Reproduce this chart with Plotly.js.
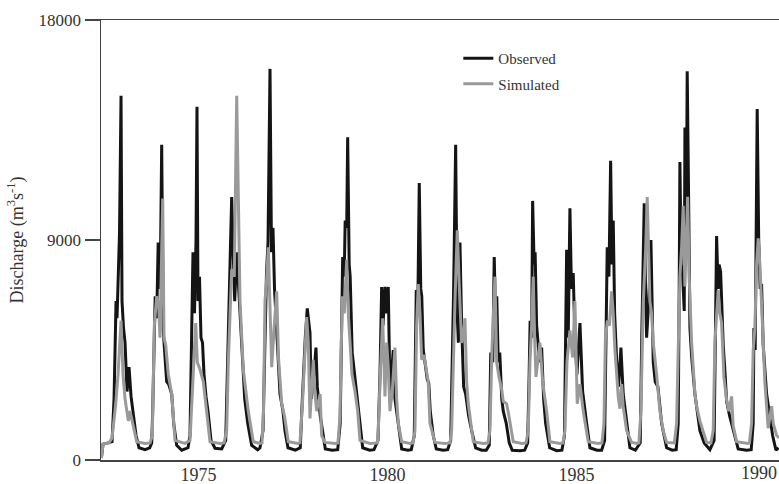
<!DOCTYPE html>
<html>
<head>
<meta charset="utf-8">
<script src="https://cdn.plot.ly/plotly-3.0.1.min.js"></script>
<style>html,body{margin:0;padding:0;background:#fff;}#chart{width:779px;height:484px;}</style>
</head>
<body>
<div id="chart"></div>
<script>
// Observed discharge (m3/s) vs decimal year
const obsYears = [1972.430,1972.474,1972.606,1972.712,1972.765,1972.818,1972.844,1972.871,1972.910,1972.950,1972.976,1973.016,1973.056,1973.109,1973.162,1973.215,1973.267,1973.347,1973.426,1973.585,
1973.709,1973.762,1973.788,1973.828,1973.854,1973.894,1973.933,1973.986,1974.026,1974.066,1974.105,1974.158,1974.211,1974.291,1974.344,1974.423,1974.556,
1974.722,1974.775,1974.815,1974.854,1974.894,1974.934,1974.960,1974.987,1975.026,1975.066,1975.106,1975.146,1975.198,1975.251,1975.331,1975.437,
1975.614,1975.720,1975.746,1975.786,1975.825,1975.878,1975.918,1975.958,1976.011,1976.063,1976.103,1976.143,1976.222,1976.302,1976.407,1976.566,
1976.627,1976.707,1976.746,1976.799,1976.839,1976.892,1976.931,1976.971,1977.011,1977.050,1977.103,1977.156,1977.235,1977.288,1977.368,1977.561,
1977.693,1977.733,1977.772,1977.825,1977.878,1977.918,1977.950,1977.984,1978.037,1978.108,1978.143,1978.222,1978.302,1978.355,1978.540,
1978.683,1978.749,1978.788,1978.815,1978.855,1978.881,1978.921,1978.947,1978.987,1979.013,1979.066,1979.106,1979.159,1979.212,1979.264,1979.344,1979.529,
1979.643,1979.749,1979.802,1979.846,1979.881,1979.934,1979.974,1980.021,1980.066,1980.106,1980.153,1980.198,1980.243,1980.304,1980.376,1980.542,
1980.630,1980.709,1980.735,1980.762,1980.801,1980.841,1980.881,1980.907,1980.947,1981.000,1981.053,1981.092,1981.132,1981.212,1981.291,1981.476,
1981.593,1981.672,1981.712,1981.751,1981.804,1981.844,1981.876,1981.918,1981.963,1982.016,1982.069,1982.148,1982.228,1982.333,1982.492,
1982.614,1982.693,1982.733,1982.786,1982.825,1982.865,1982.892,1982.931,1982.971,1983.024,1983.064,1983.143,1983.222,1983.302,1983.513,
1983.630,1983.709,1983.749,1983.775,1983.815,1983.841,1983.881,1983.907,1983.947,1983.987,1984.026,1984.079,1984.132,1984.185,1984.291,1984.476,
1984.616,1984.683,1984.709,1984.741,1984.783,1984.828,1984.868,1984.915,1984.960,1985.013,1985.093,1985.164,1985.270,1985.357,1985.542,
1985.667,1985.746,1985.781,1985.815,1985.860,1985.905,1985.940,1985.974,1986.011,1986.063,1986.116,1986.177,1986.238,1986.328,1986.415,1986.560,
1986.688,1986.728,1986.759,1986.794,1986.829,1986.857,1986.913,1986.971,1987.032,1987.085,1987.156,1987.254,1987.386,1987.534,
1987.640,1987.693,1987.719,1987.738,1987.772,1987.812,1987.852,1987.871,1987.905,1987.931,1987.968,1988.003,1988.050,1988.135,1988.196,1988.267,1988.381,1988.532,
1988.643,1988.669,1988.709,1988.749,1988.775,1988.815,1988.854,1988.884,1988.934,1988.974,1989.053,1989.148,1989.280,1989.503,
1989.625,1989.677,1989.696,1989.730,1989.783,1989.823,1989.862,1989.899,1989.942,1990.032,1990.101,1990.191,1990.280,1990.349];
const obsQ = [80,650,700,750,2500,6500,5800,7200,9300,14900,6500,5400,4800,2800,3800,2600,2000,1000,500,420,
500,700,2000,5500,6700,5800,8900,7000,12900,5300,4500,3200,3100,2700,1500,600,400,
500,1000,4500,8500,6000,9000,14450,6500,7500,5000,4800,3500,2600,2000,800,480,
450,800,2500,5000,7000,10760,8500,6500,8500,7000,5500,4500,2500,1500,600,420,
500,1200,4500,7650,8900,16000,8500,9500,7000,6000,4300,2700,2000,1200,500,400,
500,2000,3600,5000,6200,5500,5200,2500,3200,4600,3000,1800,1000,450,400,
420,1500,5000,8300,7500,9800,9500,13200,8000,7500,4400,3800,3000,2400,1500,500,400,
420,800,3500,7080,5500,7080,6000,7080,2800,3500,4500,2500,2000,1200,450,400,
420,1000,4000,6950,6000,11330,7000,6700,4500,3800,3300,3150,2000,1000,450,400,
420,800,4000,7000,12900,6000,4800,8900,5500,3000,2700,1800,1200,500,400,
400,600,4400,4000,8300,5500,6700,4000,4400,2500,2000,1500,700,400,380,
400,700,3500,5700,5000,10600,8000,8500,5500,4800,4000,4600,2500,1500,500,380,
400,1000,4500,8600,5000,10300,7000,7650,5000,3500,5600,2800,1500,500,400,
400,800,5700,8700,7500,12240,8000,9800,6000,4100,3000,4600,2700,1500,500,400,
700,5000,8000,10500,7000,5000,6500,9000,4000,3200,3000,1500,500,400,
420,1500,7000,12190,8000,7500,6100,13600,9000,15900,10800,5400,4200,2700,2000,1200,700,420,
800,5000,9160,7000,8000,7700,5500,4700,3500,2400,1800,1200,450,400,
420,1500,5400,4500,14360,9000,7000,7200,4700,2700,2000,1000,400,500];

// Simulated discharge (m3/s) vs decimal year
const simYears = [1972.430,1972.474,1972.632,1972.712,1972.810,1972.871,1972.950,1973.003,1973.056,1973.143,1973.188,1973.275,1973.365,1973.585,
1973.717,1973.778,1973.831,1973.894,1973.947,1973.981,1974.026,1974.053,1974.087,1974.132,1974.201,1974.291,1974.378,1974.643,
1974.775,1974.847,1974.926,1974.968,1975.040,1975.127,1975.217,1975.304,1975.569,
1975.675,1975.746,1975.788,1975.878,1975.947,1976.011,1976.053,1976.098,1976.185,1976.317,1976.450,1976.627,
1976.680,1976.720,1976.759,1976.804,1976.847,1976.892,1976.937,1977.005,1977.069,1977.116,1977.201,1977.275,1977.376,1977.632,
1977.685,1977.757,1977.817,1977.862,1977.905,1977.950,1978.037,1978.082,1978.127,1978.217,1978.259,1978.347,1978.611,
1978.690,1978.743,1978.804,1978.857,1978.921,1978.963,1979.008,1979.061,1979.140,1979.212,1979.273,1979.537,
1979.733,1979.757,1979.810,1979.873,1979.934,1979.979,1980.021,1980.066,1980.127,1980.198,1980.243,1980.286,1980.376,1980.595,
1980.675,1980.728,1980.772,1980.815,1980.860,1980.905,1980.966,1981.037,1981.079,1981.124,1981.257,1981.521,
1981.653,1981.698,1981.741,1981.786,1981.847,1981.884,1981.918,1981.963,1982.005,1982.050,1982.095,1982.138,1982.183,1982.270,1982.526,
1982.659,1982.712,1982.765,1982.844,1982.889,1982.950,1983.021,1983.064,1983.153,1983.214,1983.328,1983.558,
1983.666,1983.725,1983.770,1983.815,1983.857,1983.894,1983.929,1984.034,1984.106,1984.212,1984.299,1984.563,
1984.643,1984.696,1984.749,1984.828,1984.899,1984.960,1985.021,1985.093,1985.180,1985.312,1985.569,
1985.675,1985.728,1985.767,1985.820,1985.873,1985.931,1985.974,1986.019,1986.106,1986.151,1986.196,1986.238,1986.328,1986.460,1986.610,
1986.653,1986.706,1986.767,1986.831,1986.873,1986.910,1986.944,1986.989,1987.032,1987.122,1987.209,1987.296,1987.386,
1987.592,1987.651,1987.693,1987.738,1987.783,1987.825,1987.871,1987.905,1987.942,1987.984,1988.048,1988.135,1988.180,1988.267,1988.444,
1988.558,1988.619,1988.664,1988.709,1988.751,1988.796,1988.841,1988.902,1988.974,1989.034,1989.106,1989.148,1989.238,1989.537,
1989.577,1989.635,1989.677,1989.722,1989.767,1989.810,1989.854,1989.899,1989.942,1989.987,1990.074,1990.164,1990.207,1990.296,1990.365];
const simQ = [80,650,700,900,2300,3500,5700,3500,2500,1600,2000,1400,750,680,
700,1000,5500,6700,6300,5000,8500,10700,5000,4700,3500,2700,800,680,
800,3200,5600,4000,3700,3200,2000,750,680,
700,1200,4000,7800,7500,14900,10900,6500,3700,2000,750,680,
700,2000,6500,7400,8700,6000,3800,5500,6900,4200,2300,1800,750,680,
700,2500,4500,5850,4800,1700,4100,2700,2000,2700,1000,720,680,
700,1800,6700,6000,8200,6000,4800,3500,2800,2000,800,680,
700,1200,3500,5800,2600,4800,3800,2000,2800,4600,2500,1500,750,680,
700,1200,5500,7200,6000,4100,4300,3700,3200,1500,720,680,
700,1200,4500,6500,9400,7500,6400,4800,5000,5800,3200,2300,1800,750,680,
700,1200,4500,7500,4000,3400,2900,2400,2300,1800,750,680,
700,1200,4000,5500,7500,5000,3400,4800,3200,2000,750,680,
700,1200,4000,5300,4200,6500,2300,3100,2000,750,680,
700,1500,5000,5700,5500,6900,6000,4500,2600,2100,3100,2200,1200,720,680,
700,2000,6400,8600,10760,8500,6500,6000,4800,3500,2000,1200,720,
700,1500,4500,7500,8700,10400,7100,8800,10770,7500,4800,2700,2200,1600,720,
700,1200,4800,6000,6950,6000,5600,3400,2450,2000,2600,1400,750,680,
700,1500,4500,5400,8000,9070,8000,6400,4800,3150,1300,2200,1500,1000,900];

const seriesNames = ['Observed', 'Simulated'];
const xTicks = [1975, 1980, 1985, 1990];
const xTickLabels = ['1975', '1980', '1985', '1990'];
const yTicks = [0, 9000, 18000];
const yTickLabels = ['0', '9000', '18000'];

const serif = 'Liberation Serif, Times New Roman, serif';

const traces = [
  {x: obsYears, y: obsQ, name: seriesNames[0], type: 'scatter', mode: 'lines',
   line: {color: '#141414', width: 3}, legendgroup: 'a'},
  {x: simYears, y: simQ, name: seriesNames[1], type: 'scatter', mode: 'lines',
   line: {color: '#9a9a9a', width: 3}, legendgroup: 'b'}
];

// the last year label sits right at the chart's edge, so it is nudged left to stay visible
const lastIdx = xTicks.length - 1;
const axisLabels = xTickLabels.map((t, i) => i === lastIdx ? '' : t);

const layout = {
  width: 779, height: 484,
  margin: {l: 101, r: 0, t: 20, b: 24, pad: 0},
  paper_bgcolor: '#fff', plot_bgcolor: '#fff',
  font: {family: serif, size: 17, color: '#333'},
  showlegend: true,
  legend: {x: 0.527, y: 0.95, xanchor: 'left', yanchor: 'top',
           bgcolor: 'rgba(0,0,0,0)', font: {family: serif, size: 15, color: '#333'},
           tracegroupgap: 3},
  xaxis: {range: [1972.42, 1990.36], tickvals: xTicks, ticktext: axisLabels,
          showgrid: false, zeroline: false, showline: true, mirror: true,
          linecolor: '#444', linewidth: 1.5, ticks: '',
          ticklabelstandoff: -2,
          tickfont: {family: serif, size: 18, color: '#333'}},
  yaxis: {range: [0, 18000], tickvals: yTicks, ticktext: yTickLabels,
          showgrid: false, zeroline: false, showline: true,
          linecolor: '#444', linewidth: 1.5, ticks: 'outside', ticklen: 15, tickwidth: 1.2, tickcolor: '#444',
          tickfont: {family: serif, size: 17, color: '#333'},
          title: {text: 'Discharge (m<sup>3</sup>s<sup>-1</sup>)', standoff: 10,
                  font: {family: serif, size: 18, color: '#333'}}},
  annotations: [{
    x: xTicks[lastIdx], xref: 'x', y: 0, yref: 'paper',
    xanchor: 'center', yanchor: 'top', xshift: -6, yshift: -1,
    text: xTickLabels[lastIdx], showarrow: false,
    font: {family: serif, size: 18, color: '#333'}
  }]
};

Plotly.newPlot('chart', traces, layout, {staticPlot: true, displayModeBar: false});
</script>
</body>
</html>
